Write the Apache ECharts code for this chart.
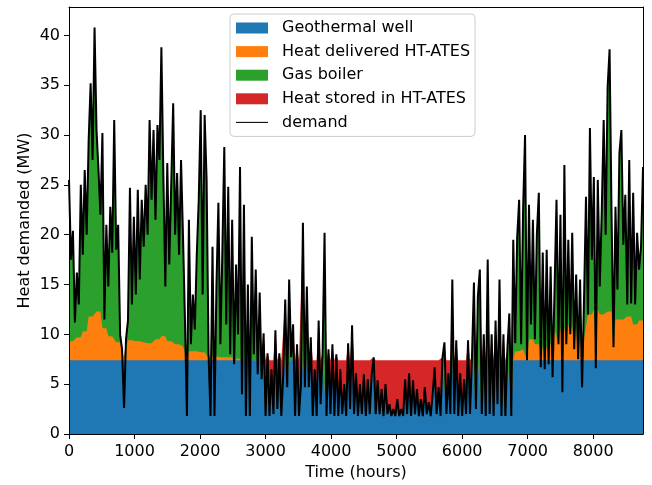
<!DOCTYPE html>
<html>
<head>
<meta charset="utf-8">
<script src="https://cdn.jsdelivr.net/npm/echarts@6/dist/echarts.min.js"></script>
<style>
  html, body { margin: 0; padding: 0; background: #fff; }
  #chart { width: 652px; height: 485px; }
</style>
</head>
<body>
<div id="chart"></div>
<script>
// demand, one value every 30 hours (0 .. 8760)
const stepHours = 30;
const demand = [
  25.5, 17.5, 20.4, 11.2, 16.2, 13.0, 25.0, 18.0, 26.5, 20.0,
  29.5, 35.2, 27.5, 40.8, 30.5, 26.5, 22.0, 30.2, 11.5, 21.0,
  14.8, 22.8, 18.2, 31.5, 18.5, 21.0, 10.0, 8.5, 2.6, 9.5,
  11.4, 24.7, 13.0, 21.8, 14.0, 24.5, 15.5, 23.5, 18.8, 25.0,
  20.0, 31.5, 23.5, 30.5, 21.5, 31.0, 27.5, 38.8, 26.0, 14.8,
  27.2, 17.0, 25.0, 33.2, 20.0, 26.2, 18.0, 27.5, 19.8, 11.4,
  1.8, 21.5, 9.0, 14.0, 10.5, 18.0, 23.5, 32.5, 14.0, 32.0,
  25.5, 8.0, 1.8, 18.8, 1.8, 14.8, 23.2, 9.0, 18.2, 28.8,
  11.0, 24.8, 8.0, 21.5, 7.0, 17.0, 10.0, 26.8, 4.0, 23.0,
  1.8, 15.0, 1.8, 19.8, 8.0, 16.5, 6.0, 14.2, 5.5, 10.1,
  1.8, 8.1, 1.8, 6.5, 2.0, 10.4, 2.5, 8.1, 1.8, 6.0,
  13.5, 4.7, 15.5, 7.7, 11.0, 1.8, 9.0, 1.8, 5.0, 21.2,
  4.7, 14.8, 4.7, 9.7, 1.8, 6.5, 1.8, 11.4, 3.0, 8.1,
  20.2, 1.8, 8.5, 2.0, 9.0, 1.8, 8.0, 1.8, 6.5, 2.0,
  5.0, 1.8, 9.1, 2.5, 10.9, 2.0, 6.1, 1.8, 5.0, 2.0,
  6.0, 1.8, 5.5, 2.0, 6.0, 7.7, 2.0, 5.4, 2.0, 4.5,
  1.8, 5.0, 2.0, 3.0, 1.8, 2.5, 1.8, 3.5, 1.8, 2.5,
  1.8, 5.5, 2.0, 6.1, 1.8, 5.4, 2.0, 4.5, 1.8, 3.5,
  1.8, 4.7, 2.0, 3.2, 1.8, 4.0, 6.7, 2.0, 4.7, 1.8,
  7.7, 9.2, 2.0, 6.1, 2.0, 15.5, 2.0, 9.4, 1.8, 6.1,
  1.8, 5.5, 2.0, 9.4, 2.0, 7.7, 15.2, 2.5, 13.8, 16.5,
  2.0, 10.0, 1.8, 17.5, 2.0, 10.0, 1.8, 11.4, 3.0, 15.5,
  1.8, 10.0, 1.8, 8.5, 12.1, 1.8, 19.5, 9.1, 19.8, 23.5,
  9.0, 22.5, 30.0, 7.4, 23.0, 11.0, 21.5, 9.5, 20.0, 24.2,
  6.7, 18.2, 6.5, 18.5, 7.0, 16.8, 5.7, 14.5, 23.5, 9.0,
  22.0, 4.2, 27.0, 9.0, 19.5, 10.0, 20.2, 8.5, 16.0, 7.5,
  15.5, 4.7, 13.5, 23.8, 12.0, 30.7, 17.5, 25.8, 6.6, 25.5,
  14.8, 22.2, 31.5, 20.0, 34.8, 38.6, 22.0, 8.7, 22.8, 14.5,
  28.2, 30.5, 19.0, 24.0, 13.0, 27.5, 13.1, 24.2, 13.0, 20.2,
  16.5, 18.8, 26.8
];

// geothermal base load and the summer window when surplus goes into storage
const geoLevel = 7.4;
const storeFrom = 3000;
const storeTo = 6790;

// top of the orange band (MW), one value per 100 hours
const atesSegHours = 100;
const atesTop = [
  9.3, 9.7, 10.3, 11.8, 12.3, 10.6, 9.8, 9.2, 8.6, 9.4,
  9.3, 9.2, 9.1, 9.5, 9.8, 9.3, 9.0, 8.8, 8.3, 8.3,
  8.2, 7.9, 7.8, 7.7, 7.7, 7.6, 7.5, 7.4, 7.4, 7.4,
  7.4, 7.4, 7.4, 7.4, 7.4, 7.4, 7.4, 7.4, 7.4, 7.4,
  7.4, 7.4, 7.4, 7.4, 7.4, 7.4, 7.4, 7.4, 7.4, 7.4,
  7.4, 7.4, 7.4, 7.4, 7.4, 7.4, 7.4, 7.4, 7.4, 7.4,
  7.4, 7.4, 7.4, 7.4, 7.4, 7.4, 7.4, 7.4, 8.3, 8.5,
  9.5, 9.0, 8.8, 9.2, 10.5, 10.8, 11.0, 10.5, 9.5, 12.0,
  12.5, 12.0, 12.3, 11.5, 11.5, 11.8, 11.0, 11.4
];

const xTicks = [0, 1000, 2000, 3000, 4000, 5000, 6000, 7000, 8000];
const yTicks = [0, 5, 10, 15, 20, 25, 30, 35, 40];

// stacked tops of each band, drawn back to front so each covers the one above it
const topGeo = [], topAtes = [], topGas = [], topStored = [], line = [];
demand.forEach((d, i) => {
  const h = i * stepHours;
  const summer = h >= storeFrom && h < storeTo;
  const g = summer ? Math.min(d, geoLevel) : geoLevel;
  const seg = atesTop[Math.min(Math.floor(h / atesSegHours), atesTop.length - 1)];
  const cap = summer ? 0 : Math.max(seg - geoLevel, 0);
  const a = Math.min(Math.max(d - geoLevel, 0), cap);
  const b = Math.max(d - geoLevel - a, 0);
  const s = summer ? geoLevel - g : 0;
  topGeo.push([h, g]);
  topAtes.push([h, g + a]);
  topGas.push([h, g + a + b]);
  topStored.push([h, g + a + b + s]);
  line.push([h, d]);
});

const font = 'DejaVu Sans';
const fs = 16;

function area(name, color, data) {
  return {
    name, type: 'line', data,
    symbol: 'none', silent: true, animation: false,
    lineStyle: { width: 0, color },
    itemStyle: { color },
    areaStyle: { color, opacity: 1, origin: 0 }
  };
}

const frameAxis = { show: true, onZero: false, lineStyle: { color: '#000', width: 1 } };

const chart = echarts.init(document.getElementById('chart'));
chart.setOption({
  animation: false,
  grid: { left: 69, right: 9, top: 7, bottom: 51, containLabel: false, outerBoundsMode: 'none' },
  legend: {
    orient: 'vertical',
    left: 230, top: 14,
    padding: [6, 5, 6, 6],
    itemWidth: 32, itemHeight: 11, itemGap: 7.6,
    borderColor: '#cccccc', borderWidth: 1, borderRadius: 4,
    backgroundColor: 'rgba(255,255,255,0.8)',
    textStyle: { fontFamily: font, fontSize: fs, color: '#000', lineHeight: 16, padding: [0, 0, 0, 9] },
    data: [
      { name: 'Geothermal well', icon: 'rect' },
      { name: 'Heat delivered HT-ATES', icon: 'rect' },
      { name: 'Gas boiler', icon: 'rect' },
      { name: 'Heat stored in HT-ATES', icon: 'rect' },
      { name: 'demand', icon: 'path://M0,0 L30,0 L30,1 L0,1 Z' }
    ]
  },
  xAxis: [{
    type: 'value', min: 0, max: 8760, interval: 1000, z: 10,
    name: 'Time (hours)', nameLocation: 'middle', nameGap: 31, nameMoveOverlap: false,
    nameTextStyle: { fontFamily: font, fontSize: fs, color: '#000' },
    axisLine: frameAxis,
    axisTick: { show: true, length: 5, customValues: xTicks, lineStyle: { color: '#000' } },
    axisLabel: { customValues: xTicks, margin: 10, fontFamily: font, fontSize: fs, color: '#000', formatter: v => String(v) },
    splitLine: { show: false }
  }, {
    type: 'value', min: 0, max: 8760, position: 'top', z: 10,
    axisLine: frameAxis,
    axisTick: { show: false }, axisLabel: { show: false }, splitLine: { show: false }
  }],
  yAxis: [{
    type: 'value', min: 0, max: 42.85, interval: 5, z: 10,
    name: 'Heat demanded (MW)', nameLocation: 'middle', nameGap: 36, nameMoveOverlap: false,
    nameTextStyle: { fontFamily: font, fontSize: fs, color: '#000' },
    axisLine: frameAxis,
    axisTick: { show: true, length: 5, customValues: yTicks, lineStyle: { color: '#000' } },
    axisLabel: { customValues: yTicks, margin: 9, fontFamily: font, fontSize: fs, color: '#000', formatter: v => String(v) },
    splitLine: { show: false }
  }, {
    type: 'value', min: 0, max: 42.85, position: 'right', z: 10,
    axisLine: frameAxis,
    axisTick: { show: false }, axisLabel: { show: false }, splitLine: { show: false }
  }],
  series: [
    area('Heat stored in HT-ATES', '#d62728', topStored),
    area('Gas boiler', '#2ca02c', topGas),
    area('Heat delivered HT-ATES', '#ff7f0e', topAtes),
    area('Geothermal well', '#1f77b4', topGeo),
    {
      name: 'demand', type: 'line', data: line, symbol: 'none', silent: true,
      animation: false, z: 3,
      lineStyle: { color: '#000', width: 2 },
      itemStyle: { color: '#000' }
    }
  ]
});
</script>
</body>
</html>
